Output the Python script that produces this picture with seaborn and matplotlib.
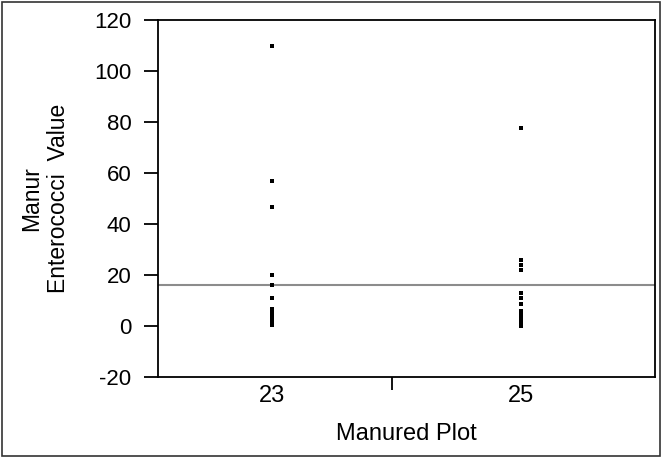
import matplotlib
matplotlib.use("Agg")
import matplotlib.pyplot as plt
import seaborn as sns
import pandas as pd
from matplotlib.patches import Rectangle

plots = ["23", "25"]
values_23 = [110, 57, 46.5, 20, 16, 11, 6.5, 5, 4, 3, 2, 1, 0.5]
values_25 = [77.5, 26, 24, 22, 13, 10.8, 8.5, 6, 4.5, 3, 2, 1, 0]
ref_line = 16
yticks = [-20, 0, 20, 40, 60, 80, 100, 120]

df = pd.DataFrame({
    "plot": [plots[0]] * len(values_23) + [plots[1]] * len(values_25),
    "value": values_23 + values_25,
})

sns.set_style("white")
plt.rcParams["font.family"] = ["Liberation Sans", "DejaVu Sans"]
plt.rcParams["axes.unicode_minus"] = False
for k in ["text.color", "axes.labelcolor", "xtick.color", "ytick.color"]:
    plt.rcParams[k] = "black"

fig = plt.figure(figsize=(6.62, 4.58), dpi=100)
ax = fig.add_axes([158 / 662, 1 - 377 / 458, (655 - 158) / 662, (377 - 20) / 458])

sns.stripplot(data=df, x="plot", y="value", order=plots, jitter=False,
              marker="s", size=3.4, color="black", linewidth=0, ax=ax)

ax.axhline(ref_line, color="#8c8c8c", lw=1.5, zorder=0)

ax.set_xlim(-0.46, 1.54)
ax.set_ylim(-20, 120)
ax.set_yticks(yticks)
ax.set_xticks([0, 1])
ax.set_xticklabels(plots)
ax.set_xticks([0.48], minor=True)
ax.tick_params(axis="x", which="major", length=0, pad=6, labelsize=17, colors="black")
ax.tick_params(axis="x", which="minor", length=9, width=1.3, color="black", bottom=True)
ax.tick_params(axis="y", length=10, width=1.3, color="black", left=True, labelsize=16, pad=9,
               colors="black")

for s in ax.spines.values():
    s.set_color("black")
    s.set_linewidth(1.3)
    s.set_visible(True)

ax.set_xlabel("Manured Plot", fontsize=17, labelpad=11, color="black")
ax.set_ylabel("Manur\nEnterococci  Value", fontsize=16.5, linespacing=1.2, color="black")
ax.yaxis.set_label_coords(-0.177, 0.5)

fig.patches.append(Rectangle((0.003, 0.004), 0.994, 0.992, transform=fig.transFigure,
                             fill=False, edgecolor="#333333", lw=1.2))

fig.savefig("out.png", dpi=100)
